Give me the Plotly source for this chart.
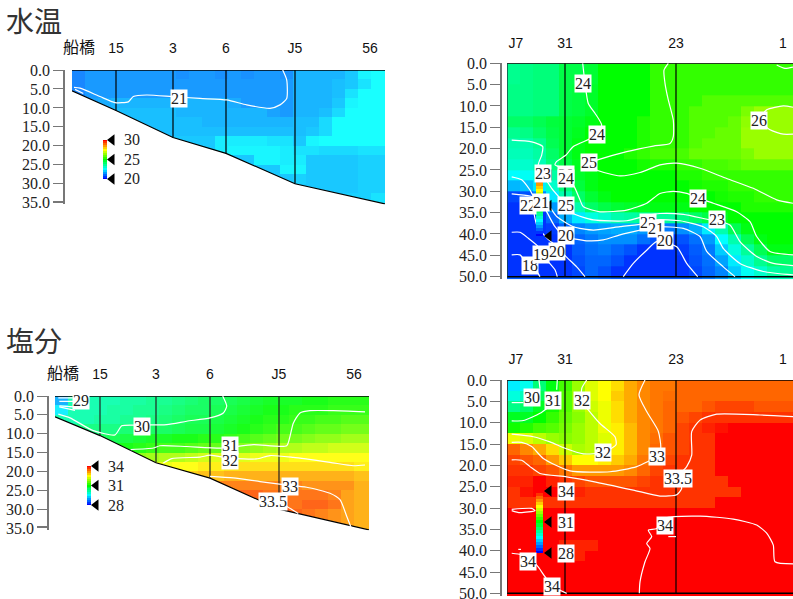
import plotly.graph_objects as go

W, H = 793, 599
SERIF = "Liberation Serif"
SANS = "Liberation Sans, Noto Sans CJK JP"

# ---------- panel A: water temperature along the 船橋-56 section ----------
A_dist_edges = [0,13,26,39,52,65,78,91,104,117,130,143,156,169,182,195,208,221,234,247,260,273,286,299,313]
A_depth_edges = [0,2.5,5,7.5,10,12.5,15,17.5,20,22.5,25,27.5,30,32.5,35.35]
A_r00 = [21.2,21.4,21.4,21.4,21.4,21.4,21.4,21.4,21.3,21.4,21.4,21.3,21.4,21.3,21.4,21.4,21.3,21.7,21.7,21.7,21.7,21.9,22.4,22.5]
A_r01 = [21.2,21.4,21.4,21.4,21.4,21.4,21.4,21.4,21.4,21.4,21.4,21.4,21.4,21.4,21.4,21.4,21.4,21.7,21.7,21.7,21.8,21.9,22.2,22.5]
A_r02 = [21.2,21.4,21.4,21.4,21.4,21.4,21.4,21.4,21.4,21.4,21.4,21.4,21.4,21.4,21.4,21.4,21.4,21.7,21.7,21.7,21.8,22.2,22.5,22.5]
A_r03 = [21.4,21.5,21.6,21.7,21.7,21.7,21.7,21.7,21.7,21.7,21.7,21.7,21.6,21.4,21.4,21.4,21.4,21.7,21.7,21.7,21.9,22.4,22.5,22.5]
A_r04 = [21.8,21.8,21.8,21.8,21.8,21.8,21.8,21.8,21.7,21.7,21.7,21.7,21.7,21.7,21.7,21.5,21.4,21.7,21.7,21.8,22.1,22.5,22.5,22.5]
A_r05 = [21.8,21.8,21.8,21.8,21.8,21.8,21.8,21.8,21.8,21.8,21.7,21.7,21.7,21.7,21.7,21.7,21.7,21.8,21.8,22.1,22.5,22.5,22.5,22.5]
A_r06 = [21.8,21.8,21.8,21.8,21.8,21.8,21.8,21.8,21.8,21.8,21.8,21.8,21.8,21.8,21.8,21.8,21.8,21.8,21.9,22.1,22.5,22.5,22.5,22.5]
A_r07 = [21.9,21.9,21.9,21.9,21.9,21.9,21.9,21.9,21.9,21.9,21.9,22.3,22.3,22.3,22.3,22.2,22.2,21.9,22.4,22.5,22.5,22.5,22.5,22.5]
A_r08 = [21.9,21.9,21.9,21.9,21.9,21.9,21.9,21.9,21.9,21.9,21.9,22.3,22.4,22.4,22.4,22.4,22.3,22.2,22.2,22.1,22.1,22.1,22.2,22.2]
A_r09 = [21.9,21.9,21.9,21.9,21.9,21.9,21.9,21.9,21.9,21.9,21.9,21.9,21.9,21.9,22.4,22.4,22.3,22.3,21.9,21.9,21.9,21.9,22.0,22.0]
A_r10 = [21.9,21.9,21.9,21.9,21.9,21.9,21.9,21.9,21.9,21.9,21.9,21.9,21.9,21.9,21.9,21.9,22.4,22.4,21.9,21.9,21.9,21.9,22.0,22.0]
A_r11 = [21.9,21.9,21.9,21.9,21.9,21.9,21.9,21.9,21.9,21.9,21.9,21.9,21.9,21.9,21.9,21.9,21.9,22.0,21.9,21.9,21.9,21.9,22.0,22.0]
A_r12 = [21.9,21.9,21.9,21.9,21.9,21.9,21.9,21.9,21.9,21.9,21.9,21.9,21.9,21.9,21.9,21.9,21.9,21.9,21.9,21.9,21.9,21.9,22.0,22.0]
A_r13 = [21.9,21.9,21.9,21.9,21.9,21.9,21.9,21.9,21.9,21.9,21.9,21.9,21.9,21.9,21.9,21.9,21.9,21.9,21.9,21.9,21.9,22.0,22.0,22.2]
A_z = [A_r00,A_r01,A_r02,A_r03,A_r04,A_r05,A_r06,A_r07,A_r08,A_r09,A_r10,A_r11,A_r12,A_r13]
A_seabed_x = [0,44,101,154,223,313]
A_seabed_d = [5.5,10.7,17.8,22,30,35.3]
A_station_x = [44,101,154,223]
A_station_d = [10.7,17.8,22,30]
A_tick_x = [7,44,101,154,223,298]
A_tick_t = ["<span style='font-size:16px'>船橋</span>","15","3","6","J5","56"]
A_c21_x = [2,8,28,43,56.3,61.3,74.7,99.7,128,154.7,174.7,198,208,214.7,214.7,210.7]
A_c21_d = [4.6,4.8,7.0,8.6,8.4,7.0,6.6,7.0,7.5,7.9,9.2,10.1,9.2,7.5,2.6,0]
A_c21b_x = [3,11.3]
A_c21b_d = [5.1,6.2]
A_labels = [("21",107,7.4)]

# ---------- panel B: water temperature J7-1 ----------
B_dist_edges = [0,13,26,39,52,65,78,91,104,117,130,143,156,169,182,195,208,221,234,247,260,273,286]
B_depth_edges = [0,2.5,5,7.5,10,12.5,15,17.5,20,22.5,25,27.5,30,32.5,35,37.5,40,42.5,45,47.5,50,50.6]
B_r00 = [23.6,23.7,23.8,23.8,24.3,24.3,24.5,25,25,25,25,25.5,25.5,25.5,25.5,25.5,25.5,25.5,25.5,25.5,25.5,25.5]
B_r01 = [23.6,23.7,23.8,23.8,24.3,24.3,24.5,25,25,25,25,25.5,25.5,25.5,25.5,25.5,25.5,25.5,25.5,25.5,25.5,25.5]
B_r02 = [23.7,23.7,23.8,23.8,24.3,24.4,24.6,25,25,25,25,25.5,25.5,25.5,25.5,25.5,25.5,25.5,25.5,25.5,25.5,25.5]
B_r03 = [23.7,23.7,23.8,23.8,24.3,24.4,24.6,25,25,25,25,25.5,25.5,25.5,25.5,25.8,25.8,25.8,25.8,25.8,25.8,25.8]
B_r04 = [23.7,23.7,23.8,23.8,24.3,24.4,24.6,25,25,25,25,25.5,25.5,25.5,25.8,25.8,25.8,25.8,26.2,26.5,26.5,26.5]
B_r05 = [24,24,24.2,24.4,24.5,24.6,24.8,25,25,25,25.3,25.5,25.5,25.5,25.8,25.8,25.8,26,26.4,26.5,26.5,26.5]
B_r06 = [23.6,23.7,24,24.3,24.5,24.7,25,25,25,25,25.3,25.5,25.5,25.5,25.8,25.8,26,26,26.5,26.5,26.5,26.5]
B_r07 = [23.3,23.3,23.6,24.2,24.5,24.8,25,25,25,25,25.3,25.5,25.5,25.5,25.8,26,26,26,26.5,26.5,26.5,26.5]
B_r08 = [23.2,23.2,23.4,24,24.5,24.8,25,25,25,25.3,25.5,25.7,25.7,25.7,26,26,26,26,26.2,26.5,26.5,26.5]
B_r09 = [23,23,23.2,23.8,24.3,24.7,25,25,25,25,25.2,25.3,25.3,25.5,25.5,25.7,25.7,25.8,26,26,26,26]
B_r10 = [22.5,22.6,22.8,23.4,24,24.6,24.8,25,25,25,25,25,25,25.3,25.3,25.5,25.5,25.5,25.5,25.5,25.5,25.5]
B_r11 = [21.8,21.9,22.3,23,23.8,24.4,24.8,25,25,25,25,25,25,25,25.2,25.3,25.3,25.5,25.5,25.5,25.5,25.5]
B_r12 = [20.7,20.8,21.3,22.3,23.3,24,24.5,24.8,25,25,25,25,25,25,25,25,25.2,25.3,25.3,25.5,25.5,25.5]
B_r13 = [20.5,20.5,20.6,21.5,22.5,23.3,24,24.3,24.5,24.6,24.7,24.8,24.8,24.8,25,25,25,25,25.3,25.3,25.3,25.3]
B_r14 = [20.5,20.5,20.5,21,21.7,22.3,22.8,23,23.3,23.4,23.5,23.5,23.5,23.7,24,24.3,24.7,25,25,25,25,25]
B_r15 = [20.5,20.5,20.5,20.6,21,21.3,21.5,21.6,21.7,21.7,21.5,21.3,21.2,21.4,21.7,22.3,23.3,24.2,24.8,25,25,25]
B_r16 = [20.5,20.5,20.5,20.5,20.7,21,21.2,21.4,21.4,21.4,21.1,20.8,20.5,20.8,21.1,21.5,22.5,23.3,24.2,24.8,25,25]
B_r17 = [20.5,20.5,20.5,20.5,20.5,20.9,21.1,21.2,21,20.8,20.5,20.5,20.5,20.6,20.9,21.2,22,22.8,23.5,24.2,24.8,24.8]
B_r18 = [20.5,20.5,20.5,20.5,20.5,20.8,21,21,20.8,20.5,20.5,20.5,20.5,20.5,20.8,21.1,21.6,22.3,23,23.6,24,24]
B_r19 = [20.5,20.5,20.5,20.5,20.5,20.7,21,20.8,20.5,20.5,20.5,20.5,20.5,20.5,20.7,21,21.3,22,22.6,23,23.4,23.6]
B_r20 = [20.9,20.9,20.9,20.9,20.9,21,21.1,21,20.9,20.9,20.9,20.9,20.9,20.9,21,21.2,21.5,22,22.5,22.8,23,23.2]
B_z = [B_r00,B_r01,B_r02,B_r03,B_r04,B_r05,B_r06,B_r07,B_r08,B_r09,B_r10,B_r11,B_r12,B_r13,B_r14,B_r15,B_r16,B_r17,B_r18,B_r19,B_r20]
B_station_x = [58,169]
B_tick_x = [9,58,169,276]
B_tick_t = ["J7","31","23","1"]
B_c24_x = [75.7,78,81.3,88,94.7,90.3,66.3,59,49.7,48,53,59,66.3,72.3,76.3,93,119.7,139.7,153,166.3,179.7,191.3,206.3,229.7,243,249.7,263,286]
B_c24_d = [0,4.7,9.4,11.7,14.5,16.8,19.5,21.5,23,23.8,24.4,26.8,28.5,31.6,33.6,34.8,34.4,32.8,30.5,30,30.5,31.6,32.8,34.8,37.1,40.6,44.1,44.9]
B_c25_x = [161.3,157,158,161.3,166.3,166.3,163,146.3,119.7,89.7,81.3,89.7,113,133,153,169.7,193,219.7,246.3,269.7,286]
B_c25_d = [0,1.6,4.7,8.6,13.3,17.2,18.8,19.4,20.7,22.7,23.4,25,26.4,25.6,23.8,23.4,24.6,27,29.3,32,32.8]
B_c26a_x = [286,276.3,259.7,253,263,276.3,286]
B_c26a_d = [10.3,10,10.9,13.3,15.6,16.6,16.6]
B_c26b_x = [269.7,278,286]
B_c26b_d = [0.4,1.2,0.9]
B_c23_x = [4.7,24.7,35.7,34.7,31.3,35.7,44.7,59,66.3,86.3,119.7,143,153,176.3,203,209.7,223,233,249.7,266.3,286]
B_c23_d = [18,18.4,19.5,21.5,23.8,25.9,29.3,33.2,35.2,36.7,36.9,35.5,35.2,35.4,36.7,36.9,37.9,41.8,45.3,46.9,47.4]
B_c22_x = [4.7,14.7,23,27,39.7,49.7,66.3,86.3,113,139.7,149.7,173,196.3,209.7,216.3,233,256.3,286]
B_c22_d = [26.6,27.3,29.7,31.3,32.8,35.9,38.3,39.1,38.3,37.5,36.7,36.9,38.3,40.6,43.4,46.9,48.8,49.6]
B_c21_x = [4.7,23,33,38,48,58,79.7,96.3,113,133,149.7,176.3,193,199.7,216.3,228]
B_c21_d = [30.6,31.1,32,34,38.3,40.6,41.6,41.4,40.2,39.1,38.3,38.7,40.6,44.1,47.7,50]
B_c20a_x = [27,30.3,40.3,49.7,59,69.7,78]
B_c20a_d = [35.2,38.3,41,43,45.3,47.7,50]
B_c20b_x = [116.3,126.3,139.7,149.7,169.7,179.7,190.7]
B_c20b_d = [50,46.9,43.8,41.8,43,46.9,50]
B_c19_x = [4.7,13,21.3,31.3,34.7,41.3,48,50.3]
B_c19_d = [39.6,39.6,41,43,44.9,46.5,48.4,50]
B_c18_x = [4.7,13,19.7,29.7,33]
B_c18_d = [44.9,44.9,46.9,48.8,50]
B_labels = [("24",76,4.8),("24",90,16.8),("25",82,23.3),("26",252,13.5),("23",36,25.9),("24",59,26.9),
            ("22",21,33.4),("21",34,32.7),("18",23,47.5),("19",34,44.9),("20",50,44),
            ("22",141,37.4),("21",149,38.8),("20",158,41.6),("24",191,31.8),("23",210,36.7)]

# ---------- panel C: salinity along the 船橋-56 section ----------
C_dist_edges = [0,13,26,39,52,65,78,91,104,117,130,143,156,169,182,195,208,221,234,247,260,273,286,299,314]
C_depth_edges = [0,2.5,5,7.5,10,12.5,15,17.5,20,22.5,25,27.5,30,32.5,35.5]
C_r00 = [29.0,30.0,30.0,30.0,30.0,30.1,30.1,30.2,30.2,30.3,30.4,30.5,30.5,30.6,30.7,30.8,30.9,30.9,30.9,31.0,31.0,31.1,31.1,31.1]
C_r01 = [29.4,30.0,30.0,30.0,30.1,30.1,30.2,30.2,30.3,30.4,30.5,30.5,30.6,30.7,30.8,30.9,31.0,31.0,31.1,31.1,31.1,31.2,31.2,31.2]
C_r02 = [30.0,30.0,30.0,30.1,30.1,30.2,30.2,30.3,30.4,30.5,30.6,30.6,30.7,30.8,30.9,31.0,31.1,31.1,31.2,31.2,31.3,31.3,31.4,31.4]
C_r03 = [30.3,30.3,30.3,30.3,30.3,30.4,30.4,30.5,30.5,30.6,30.7,30.7,30.8,30.9,31.0,31.1,31.2,31.3,31.3,31.4,31.5,31.5,31.6,31.6]
C_r04 = [30.5,30.5,30.5,30.5,30.6,30.7,30.8,30.9,30.9,31.0,31.0,31.1,31.1,31.2,31.3,31.4,31.5,31.6,31.6,31.7,31.8,31.8,31.9,31.9]
C_r05 = [31.0,31.0,31.0,31.0,31.0,31.0,31.1,31.2,31.3,31.3,31.4,31.5,31.5,31.6,31.7,31.8,31.9,32.0,32.0,32.1,32.1,32.2,32.2,32.2]
C_r06 = [31.8,31.8,31.8,31.8,31.8,31.8,31.8,31.9,32.0,32.0,32.1,32.2,32.3,32.3,32.3,32.4,32.4,32.4,32.5,32.5,32.5,32.5,32.5,32.5]
C_r07 = [32.2,32.2,32.2,32.2,32.2,32.2,32.2,32.3,32.4,32.5,32.5,32.6,32.6,32.7,32.7,32.7,32.7,32.7,32.7,32.7,32.7,32.7,32.7,32.6]
C_r08 = [32.8,32.8,32.8,32.8,32.8,32.8,32.8,32.8,32.8,32.8,32.8,32.9,32.9,33.0,33.0,33.0,33.0,33.0,33.0,33.0,33.0,33.0,33.0,32.9]
C_r09 = [33.1,33.1,33.1,33.1,33.1,33.1,33.1,33.1,33.1,33.1,33.1,33.2,33.3,33.3,33.3,33.3,33.3,33.3,33.3,33.2,33.2,33.2,33.2,33.0]
C_r10 = [33.5,33.5,33.5,33.5,33.5,33.5,33.5,33.5,33.5,33.5,33.5,33.5,33.5,33.5,33.5,33.5,33.4,33.4,33.4,33.4,33.4,33.3,33.1,33.0]
C_r11 = [33.7,33.7,33.7,33.7,33.7,33.7,33.7,33.7,33.7,33.7,33.7,33.7,33.7,33.7,33.7,33.6,33.6,33.5,33.4,33.5,33.5,33.4,33.1,33.0]
C_r12 = [33.7,33.7,33.7,33.7,33.7,33.7,33.7,33.7,33.7,33.7,33.7,33.7,33.7,33.7,33.7,33.7,33.6,33.6,33.5,33.4,33.3,33.2,33.1,33.0]
C_r13 = [33.7,33.7,33.7,33.7,33.7,33.7,33.7,33.7,33.7,33.7,33.7,33.7,33.7,33.7,33.7,33.7,33.6,33.6,33.5,33.4,33.3,33.2,33.1,33.0]
C_z = [C_r00,C_r01,C_r02,C_r03,C_r04,C_r05,C_r06,C_r07,C_r08,C_r09,C_r10,C_r11,C_r12,C_r13]
C_seabed_x = [0,45,101,155,224,314]
C_seabed_d = [5.5,10.5,17.7,21.8,30,35.5]
C_station_x = [45,101,155,224]
C_station_d = [10.5,17.7,21.8,30]
C_tick_x = [8,45,101,155,224,299]
C_tick_t = ["<span style='font-size:16px'>船橋</span>","15","3","6","J5","56"]
C_c30_x = [3.3,15,38.3,60,66.7,78.3,111.7,131.7,155,168.3,171.7,167.7]
C_c30_d = [4.8,5.8,9.2,10.3,7.9,7.7,7.6,6.7,5.8,4.5,2.7,0]
C_c31_x = [75.7,98.3,105,131.7,166.7,198.3,231.7,235,238.3,245,255,278.3,310]
C_c31_d = [14.2,13.8,13.2,13.4,13.8,12.9,13.2,10.7,7.2,4.5,3.9,3.9,4.2]
C_c32_x = [108.3,116.7,145,155,175,201.7,215,238.3,275,298.3,310]
C_c32_d = [17.8,16.6,16.2,15.7,16.5,16.7,15.8,16.3,17.6,18.5,18.3]
C_c33_x = [155,178.3,205,228.3,251.7,275,285,291.7,296.7]
C_c33_d = [21.3,21.7,22.7,23.5,24.2,25.8,27.5,31.9,35.3]
C_c335_x = [218,231.7,243.3]
C_c335_d = [28,29.3,31.2]
C_c29_x = [3.3,17.7,None,4.3,18.3,None,4.3,18.3,None,4.3,20]
C_c29_d = [0.5,0.5,None,1.4,1.4,None,2.6,2.9,None,2.9,3.8]
C_labels = [("29",26,1.3),("30",87,8.2),("31",175,13),("32",175,17),("33",235,23.9),("33.5",218,28)]

# ---------- panel D: salinity J7-1 ----------
D_dist_edges = B_dist_edges
D_depth_edges = B_depth_edges
D_r00 = [29.4,29.6,30.3,30.9,31.4,31.9,32.3,32.5,32.7,33,33.2,33.3,33.3,33.4,33.4,33.4,33.4,33.4,33.4,33.4,33.4,33.4]
D_r01 = [29.7,29.9,30.5,31,31.5,31.9,32.3,32.5,32.8,33,33.2,33.3,33.35,33.4,33.4,33.4,33.4,33.4,33.4,33.4,33.4,33.4]
D_r02 = [30.2,30.4,30.8,31.1,31.5,31.9,32.2,32.4,32.7,33,33.2,33.3,33.4,33.4,33.4,33.5,33.6,33.6,33.6,33.5,33.5,33.5]
D_r03 = [30.8,30.8,31,31.3,31.6,31.8,32.1,32.4,32.7,33,33.2,33.3,33.4,33.5,33.6,33.7,33.7,33.7,33.7,33.7,33.7,33.7]
D_r04 = [31.1,31.2,31.4,31.5,31.7,31.9,32.1,32.4,32.6,32.9,33.2,33.3,33.4,33.6,33.7,33.8,33.9,34,34,34,34,34]
D_r05 = [32.4,32.3,32.1,31.9,31.8,31.9,32.1,32.3,32.6,32.9,33.2,33.35,33.5,33.6,33.7,33.7,34,34,34,34,34,34]
D_r06 = [33.4,33.2,33,32.7,32.2,32,32.1,32.3,32.6,32.9,33.2,33.4,33.5,33.6,33.7,33.7,34,34,34,34,34,34]
D_r07 = [33.6,33.5,33.4,33.1,32.8,32.5,32.5,32.6,32.8,33,33.3,33.5,33.6,33.7,33.7,33.7,34,34,34,34,34,34]
D_r08 = [33.7,33.7,33.6,33.5,33.3,33.1,33.1,33.1,33.1,33.2,33.4,33.6,33.7,33.7,33.7,33.7,34,34,34,34,34,34]
D_r09 = [33.8,33.8,34,33.8,33.7,33.6,33.5,33.5,33.5,33.5,33.6,33.7,33.7,33.7,33.7,33.7,33.7,34,34,34,34,34]
D_r10 = [33.7,33.9,34,34,34,33.8,33.7,33.7,33.7,33.7,33.7,33.7,33.7,33.7,33.7,33.7,33.7,33.7,34,34,34,34]
D_r11 = [33.7,33.7,33.7,33.7,33.7,33.7,33.7,33.7,33.7,33.7,33.7,33.7,33.7,33.7,33.7,33.7,34,34,34,34,34,34]
D_r12 = [34,34,34,34,34,34,34,34,34,34,34,34,34,34,34,34,34,34,34,34,34,34]
D_r13 = [34,34,34,34,34,34,34,34,34,34,34,34,34,34,34,34,34,34,34,34,34,34]
D_r14 = [34,34,34,34,34,34,34,34,34,34,34,34,34,34,34,34,34,34,34,34,34,34]
D_r15 = [34,34,34,34,33.8,33.8,33.8,34,34,34,34,34,34,34,34,34,34,34,34,34,34,34]
D_r16 = [34,34,34,34,33.8,33.8,34,34,34,34,34,34,34,34,34,34,34,34,34,34,34,34]
D_r17 = [34,34,34,34,34,34,34,34,34,34,34,34,34,34,34,34,34,34,34,34,34,34]
D_r18 = [34,34,34,34,34,34,34,34,34,34,34,34,34,34,34,34,34,34,34,34,34,34]
D_r19 = [34,34,34,34,34,34,34,34,34,34,34,34,34,34,34,34,34,34,34,34,34,34]
D_r20 = [34,34,34,34,34,34,34,34,34,34,34,34,34,34,34,34,34,34,34,34,34,34]
D_z = [D_r00,D_r01,D_r02,D_r03,D_r04,D_r05,D_r06,D_r07,D_r08,D_r09,D_r10,D_r11,D_r12,D_r13,D_r14,D_r15,D_r16,D_r17,D_r18,D_r19,D_r20]
D_c30a_x = [4.7,16.3]
D_c30a_d = [5.3,5.3]
D_c30b_x = [32,33]
D_c30b_d = [0,2]
D_c31a_x = [4.7,16.3,33,40.3]
D_c31a_d = [9.6,9.5,7.8,6.6]
D_c31b_x = [50.3,49.7]
D_c31b_d = [0,2.3]
D_c32_x = [79.7,74.7,75.3,81.3,93,108,109,96.3,76.3,58,43,26.3,4.7]
D_c32_d = [0,2,5.1,7,10.2,13.3,15.2,17,17.3,16,14.5,13.3,12.7]
D_c33_x = [138,132,139.7,151.3,153.7,149.7,129.7,103,63,36.3,24.7,14.7,4.7]
D_c33_d = [0,3.5,7.4,12,15.9,17.9,20.3,21.5,21.3,18.4,15.6,14.6,14.6]
D_c335_x = [286.3,253,209.7,193,184.7,184.7,179.7,171,174.7,169.7,153,126.3,86.3,59.7,33,23,14.7,4.7]
D_c335_d = [8.6,8.2,8,9.4,12.1,17.6,20.3,22.7,25.4,26.9,27.2,25.8,23.8,22.7,21.9,20.3,18.8,18.7]
D_c34a_x = [132.3,133,138,143,139.7,144.7,141.3,149.7,158,193,226.3,249.7,259.7,266.3,268,286.3]
D_c34a_d = [50,47.3,42.6,39.5,38.3,36.7,35.2,34.8,32.4,31.9,32.6,34,35.9,38.7,42.6,43.1]
D_c34b_x = [4.7,14.7,29.7,38,46.3,59.7]
D_c34b_d = [40.6,41,43.4,46.1,48.4,50]
D_c34c_x = [4.7,24.7,28,13,4.7]
D_c34c_d = [30.3,30.1,30.6,31.1,30.6]
D_c34d_x = [161.3,169]
D_c34d_d = [36.7,36.7]
D_c34e_x = [11.3,14]
D_c34e_d = [39.7,39.7]
D_labels = [("30",24.7,4),("31",46.3,4.9),("32",75.3,4.9),("32",96.3,16.9),("33",149.7,18),("33.5",171,23),
            ("34",158,34),("34",21.3,42.6),("34",45,48.4)]

# ---------- shared axis values and colour keys ----------
depth_ticks_35 = [0,5,10,15,20,25,30,34.6,35]
depth_text_35 = ["0.0","5.0","10.0","15.0","20.0","25.0","30.0","","35.0"]
depth_ticks_50 = [0,5,10,15,20,25,30,35,40,45,50]
depth_text_50 = ["0.0","5.0","10.0","15.0","20.0","25.0","30.0","35.0","40.0","45.0","50.0"]
temp_key = [20,20.5,21,21.5,22,22.5,23,23.5,24,24.5,25,25.5,26,26.5,27,27.5,28,28.5,29,29.5,30]
temp_key_ticks = [20,25,30]
salt_key = [28,28.3,28.6,28.9,29.2,29.5,29.8,30.1,30.4,30.7,31,31.3,31.6,31.9,32.2,32.5,32.8,33.1,33.4,33.7,34]
salt_key_ticks = [28,31,34]
rainbow = [[0,"#0000ff"],[0.25,"#00ffff"],[0.5,"#00ff00"],[0.75,"#ffff00"],[1,"#ff0000"]]

fig = go.Figure()
ann = []

def hx(a, b):
    return [a / W, b / W]

def vy(top, bottom):
    return [1 - bottom / H, 1 - top / H]

def panel(n, left, right, axis_x, top, bottom, xmax, dmax, ticks, ticktext, tx, tt, key_gap):
    ax, ay = ("xaxis" + (str(n) if n > 1 else "")), ("yaxis" + (str(n) if n > 1 else ""))
    fig.update_layout({
        ax: dict(domain=hx(left, right), range=[0, xmax], anchor="y" + (str(n) if n > 1 else ""), side="top",
                 tickmode="array", tickvals=tx, ticktext=tt, showgrid=False, zeroline=False, showline=False,
                 automargin=False, ticks="outside", ticklen=key_gap, tickcolor="rgba(0,0,0,0)",
                 tickfont=dict(family=SANS, size=14, color="#111")),
        ay: dict(domain=vy(top, bottom), range=[dmax, 0], anchor="free", position=axis_x / W, automargin=False,
                 tickmode="array", tickvals=ticks, ticktext=ticktext, showgrid=False, zeroline=False,
                 ticklabeloverflow="allow",
                 showline=True, linecolor="#777", linewidth=1.5, ticks="outside", ticklen=10, tickwidth=1.2,
                 tickcolor="#777", tickfont=dict(family=SERIF, size=16, color="#222")),
    })

def key_axes(n, left, width, reach, top, bottom, lo, hi):
    fig.update_layout({
        f"xaxis{n}": dict(domain=hx(left, left + reach), range=[0, reach / width], anchor=f"y{n}", visible=False,
                          automargin=False),
        f"yaxis{n}": dict(domain=vy(top, bottom), range=[lo, hi], anchor=f"x{n}", visible=False, automargin=False),
    })

def field(n, xe, de, z, lo, hi, opacity=1):
    s = str(n) if n > 1 else ""
    fig.add_trace(go.Heatmap(x=xe, y=de, z=z, zmin=lo, zmax=hi, colorscale=rainbow, showscale=False, opacity=opacity,
                             xaxis="x" + s, yaxis="y" + s, hoverinfo="skip"))

def line(n, x, y, color="white", width=1.2, shape="spline"):
    s = str(n) if n > 1 else ""
    fig.add_trace(go.Scatter(x=x, y=y, mode="lines", line=dict(color=color, width=width, shape=shape, smoothing=0.6),
                             xaxis="x" + s, yaxis="y" + s, showlegend=False, hoverinfo="skip", connectgaps=False))

def seabed(n, xs, ds, dmax):
    s = str(n) if n > 1 else ""
    px = [xs[0] - 5] + xs + [xs[-1] + 5, xs[-1] + 5, xs[0] - 5]
    py = [ds[0]] + ds + [ds[-1], dmax + 5, dmax + 5]
    fig.add_trace(go.Scatter(x=px, y=py, mode="lines", fill="toself",
                             fillcolor="white", line=dict(width=0), xaxis="x" + s, yaxis="y" + s,
                             showlegend=False, hoverinfo="skip"))

def labels(n, items):
    s = str(n) if n > 1 else ""
    for t, x, d in items:
        ann.append(dict(x=x, y=d, xref="x" + s, yref="y" + s, text=t, showarrow=False, bgcolor="white",
                        borderpad=0, font=dict(family=SERIF, size=16, color="#222")))

def key(n, main, levels, tick_levels, tx, label_x, boxed):
    fig.add_trace(go.Heatmap(x=[0, 1], y=levels, z=[[v] for v in levels], zmin=levels[0], zmax=levels[-1],
                             colorscale=rainbow, showscale=False, xaxis=f"x{n}", yaxis=f"y{n}", hoverinfo="skip"))
    fig.add_trace(go.Scatter(x=[tx] * len(tick_levels), y=tick_levels, mode="markers", cliponaxis=False,
                             marker=dict(symbol="triangle-left", size=10, color="black", line=dict(width=0)),
                             xaxis=f"x{n}", yaxis=f"y{n}", showlegend=False, hoverinfo="skip"))
    s = str(main) if main > 1 else ""
    for v in tick_levels:
        ann.append(dict(x=label_x, y=v, xref="x" + s, yref=f"y{n}", text=str(v), showarrow=False,
                        bgcolor="white" if boxed else None, borderpad=0,
                        font=dict(family=SERIF, size=16, color="#222")))

# axes
panel(1, 72, 385, 64, 70, 204.4, 313, 35.45, depth_ticks_35, depth_text_35, A_tick_x, A_tick_t, 10)
panel(2, 507, 793, 501, 63.3, 279.2, 286, 50.6, depth_ticks_50, depth_text_50, B_tick_x, B_tick_t, 9)
panel(3, 55, 369, 48, 396, 530.2, 314, 35.6, depth_ticks_35, depth_text_35, C_tick_x, C_tick_t, 10)
panel(4, 507, 793, 501, 380, 595.9, 286, 50.6, depth_ticks_50, depth_text_50, B_tick_x, B_tick_t, 9)
key_axes(5, 103, 4, 16, 140, 179, 20, 30)
key_axes(6, 536, 7, 20, 175, 236, 20, 30)
key_axes(7, 87, 4, 16, 466, 505, 28, 34)
key_axes(8, 536, 7, 20, 491, 553, 28, 34)

# panel A
field(1, A_dist_edges, A_depth_edges, A_z, 20, 30, 0.9)
seabed(1, A_seabed_x, A_seabed_d, 35.45)
line(1, A_seabed_x, A_seabed_d, "black", 1.2, "linear")
line(1, [0, 313], [0, 0], "black", 1.5, "linear")
for x, d in zip(A_station_x, A_station_d):
    line(1, [x, x], [0, d], "black", 1.2, "linear")
line(1, A_c21_x, A_c21_d)
line(1, A_c21b_x, A_c21b_d)

# panel B
field(2, B_dist_edges, B_depth_edges, B_z, 20, 30)
line(2, [0, 286], [0, 0], "black", 1.5, "linear")
line(2, [0, 286], [50, 50], "black", 1.5, "linear")
line(2, [0, 0], [0, 50], "#114444", 1.5, "linear")
for x in B_station_x:
    line(2, [x, x], [0, 50], "black", 1.2, "linear")
for cx, cd in [(B_c24_x, B_c24_d), (B_c25_x, B_c25_d), (B_c26a_x, B_c26a_d), (B_c26b_x, B_c26b_d),
               (B_c23_x, B_c23_d), (B_c22_x, B_c22_d), (B_c21_x, B_c21_d), (B_c20a_x, B_c20a_d),
               (B_c20b_x, B_c20b_d), (B_c19_x, B_c19_d), (B_c18_x, B_c18_d)]:
    line(2, cx, cd)

# panel C
field(3, C_dist_edges, C_depth_edges, C_z, 28, 34, 0.9)
seabed(3, C_seabed_x, C_seabed_d, 35.6)
line(3, C_seabed_x, C_seabed_d, "black", 1.2, "linear")
line(3, [0, 314], [0, 0], "black", 1.5, "linear")
for x, d in zip(C_station_x, C_station_d):
    line(3, [x, x], [0, d], "#222", 1.2, "linear")
for cx, cd in [(C_c30_x, C_c30_d), (C_c31_x, C_c31_d), (C_c32_x, C_c32_d), (C_c33_x, C_c33_d), (C_c335_x, C_c335_d)]:
    line(3, cx, cd)
line(3, C_c29_x, C_c29_d, "white", 1.2, "linear")

# panel D
field(4, D_dist_edges, D_depth_edges, D_z, 28, 34)
line(4, [0, 286], [0, 0], "black", 1.5, "linear")
line(4, [0, 286], [50, 50], "black", 1.5, "linear")
line(4, [0, 0], [0, 50], "#441111", 1.5, "linear")
for x in B_station_x:
    line(4, [x, x], [0, 50], "black", 1.2, "linear")
for cx, cd in [(D_c30a_x, D_c30a_d), (D_c30b_x, D_c30b_d), (D_c31a_x, D_c31a_d), (D_c31b_x, D_c31b_d),
               (D_c32_x, D_c32_d), (D_c33_x, D_c33_d), (D_c335_x, D_c335_d), (D_c34a_x, D_c34a_d),
               (D_c34b_x, D_c34b_d), (D_c34c_x, D_c34c_d), (D_c34d_x, D_c34d_d), (D_c34e_x, D_c34e_d)]:
    line(4, cx, cd)

# colour keys (drawn above the fields, below the labels)
key(5, 1, temp_key, temp_key_ticks, 2.25, 60, False)
key(6, 2, temp_key, temp_key_ticks, 1.86, 59, True)
key(7, 3, salt_key, salt_key_ticks, 2.25, 61, False)
key(8, 4, salt_key, salt_key_ticks, 1.86, 59, True)

# contour labels
labels(1, A_labels)
labels(2, B_labels)
labels(3, C_labels)
labels(4, D_labels)

# titles
for text, py in [("水温", 20), ("塩分", 340)]:
    ann.append(dict(x=4 / W, y=1 - py / H, xref="paper", yref="paper", text=text, showarrow=False,
                    xanchor="left", yanchor="middle", font=dict(family="Noto Sans CJK JP", size=28, color="#333")))

fig.update_layout(template="none", width=W, height=H, margin=dict(l=0, r=0, t=0, b=0), paper_bgcolor="white",
                  plot_bgcolor="rgba(0,0,0,0)", showlegend=False, annotations=ann)
fig.write_html("out.html", post_script="document.body.style.margin='0';", config={"displayModeBar": False})
